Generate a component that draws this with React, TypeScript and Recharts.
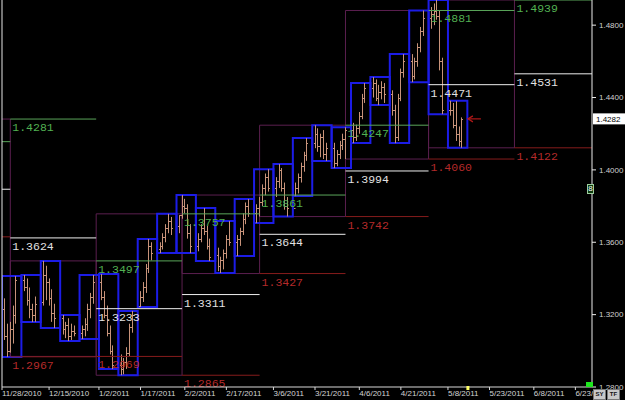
import {
  Bar,
  ComposedChart,
  ReferenceArea,
  ReferenceDot,
  ReferenceLine,
  XAxis,
  YAxis,
} from "recharts";

// daily bars, Mon..Fri, week 0 = week starting Sun 11/28/2010
const opens = [
  1.323, 1.308, 1.3, 1.312, 1.32,
  1.339, 1.335, 1.328, 1.323, 1.32,
  1.327, 1.342, 1.338, 1.329, 1.321,
  1.318, 1.312, 1.314, 1.308, 1.311,
  1.31, 1.312, 1.315, 1.323, 1.33,
  1.338, 1.33, 1.32, 1.31, 1.3,
  1.292, 1.29, 1.294, 1.299, 1.313,
  1.325, 1.33, 1.335, 1.346, 1.358,
  1.356, 1.358, 1.363, 1.368, 1.372,
  1.369, 1.375, 1.38, 1.379, 1.365,
  1.358, 1.362, 1.368, 1.366, 1.358,
  1.353, 1.347, 1.35, 1.354, 1.362,
  1.36, 1.362, 1.366, 1.373, 1.38,
  1.376, 1.379, 1.382, 1.39, 1.396,
  1.39, 1.394, 1.4, 1.39, 1.38,
  1.379, 1.39, 1.396, 1.402, 1.408,
  1.415, 1.42, 1.413, 1.418, 1.409,
  1.412, 1.404, 1.409, 1.414, 1.417,
  1.422, 1.418, 1.423, 1.43, 1.44,
  1.445, 1.448, 1.44, 1.443, 1.446,
  1.442, 1.433, 1.418, 1.44, 1.454,
  1.46, 1.452, 1.46, 1.468, 1.477,
  1.484, 1.486, 1.488, 1.485, 1.46,
  1.433, 1.433, 1.425, 1.42, 1.416,
];
const highs = [
  1.329, 1.315, 1.316, 1.325, 1.3413,
  1.3419, 1.34, 1.335, 1.326, 1.33,
  1.3497, 1.347, 1.34, 1.334, 1.326,
  1.3198, 1.316, 1.318, 1.315, 1.314,
  1.314, 1.318, 1.326, 1.332, 1.3419,
  1.3424, 1.333, 1.325, 1.314, 1.303,
  1.298, 1.296, 1.302, 1.315, 1.322,
  1.333, 1.338, 1.348, 1.3618, 1.36,
  1.36, 1.365, 1.37, 1.3757, 1.374,
  1.375, 1.3861, 1.384, 1.381, 1.37,
  1.365, 1.37, 1.3789, 1.369, 1.362,
  1.357, 1.352, 1.356, 1.364, 1.3717,
  1.364, 1.368, 1.376, 1.382, 1.3839,
  1.381, 1.385, 1.392, 1.398, 1.4004,
  1.396, 1.4032, 1.401, 1.393, 1.385,
  1.393, 1.398, 1.404, 1.41, 1.4176,
  1.4247, 1.423, 1.42, 1.422, 1.415,
  1.415, 1.411, 1.416, 1.42, 1.4236,
  1.426, 1.425, 1.432, 1.442, 1.448,
  1.4513, 1.45, 1.447, 1.449, 1.448,
  1.444, 1.436, 1.442, 1.456, 1.464,
  1.464, 1.462, 1.47, 1.479, 1.4881,
  1.49, 1.492, 1.4939, 1.488, 1.462,
  1.4382, 1.437, 1.438, 1.424, 1.429,
];
const lows = [
  1.306, 1.2966, 1.299, 1.304, 1.315,
  1.333, 1.325, 1.318, 1.3159, 1.316,
  1.325, 1.328, 1.325, 1.316, 1.3126,
  1.309, 1.307, 1.3054, 1.306, 1.308,
  1.3065, 1.308, 1.311, 1.318, 1.326,
  1.328, 1.318, 1.308, 1.298, 1.2899,
  1.2865, 1.287, 1.29, 1.297, 1.31,
  1.3242, 1.327, 1.332, 1.343, 1.35,
  1.354, 1.356, 1.36, 1.365, 1.364,
  1.365, 1.373, 1.376, 1.362, 1.354,
  1.355, 1.36, 1.364, 1.356, 1.3496,
  1.344, 1.343, 1.345, 1.351, 1.358,
  1.3524, 1.358, 1.364, 1.37, 1.374,
  1.3706, 1.3742, 1.38, 1.386, 1.388,
  1.385, 1.39, 1.388, 1.378, 1.3742,
  1.3855, 1.387, 1.393, 1.399, 1.405,
  1.412, 1.41, 1.407, 1.406, 1.4049,
  1.401, 1.402, 1.406, 1.411, 1.406,
  1.4148, 1.416, 1.42, 1.428, 1.437,
  1.44, 1.438, 1.4358, 1.439, 1.437,
  1.43, 1.4148, 1.416, 1.438, 1.451,
  1.4485, 1.45, 1.457, 1.465, 1.474,
  1.478, 1.48, 1.483, 1.455, 1.4308,
  1.43, 1.423, 1.416, 1.413, 1.4122,
];
const closes = [
  1.308, 1.3, 1.312, 1.32, 1.339,
  1.335, 1.328, 1.323, 1.32, 1.326,
  1.342, 1.338, 1.329, 1.321, 1.318,
  1.312, 1.314, 1.308, 1.311, 1.31,
  1.312, 1.315, 1.323, 1.33, 1.338,
  1.33, 1.32, 1.31, 1.3, 1.292,
  1.29, 1.294, 1.299, 1.313, 1.32,
  1.33, 1.335, 1.346, 1.358, 1.354,
  1.358, 1.363, 1.368, 1.372, 1.368,
  1.375, 1.38, 1.379, 1.365, 1.358,
  1.362, 1.368, 1.366, 1.358, 1.352,
  1.347, 1.35, 1.354, 1.362, 1.36,
  1.362, 1.366, 1.373, 1.38, 1.376,
  1.379, 1.382, 1.39, 1.396, 1.39,
  1.394, 1.4, 1.39, 1.38, 1.379,
  1.39, 1.396, 1.402, 1.408, 1.415,
  1.42, 1.413, 1.418, 1.409, 1.412,
  1.404, 1.409, 1.414, 1.417, 1.422,
  1.418, 1.423, 1.43, 1.44, 1.445,
  1.448, 1.44, 1.443, 1.446, 1.442,
  1.433, 1.418, 1.44, 1.454, 1.46,
  1.452, 1.46, 1.468, 1.477, 1.484,
  1.486, 1.488, 1.485, 1.46, 1.433,
  1.433, 1.425, 1.42, 1.416, 1.4282,
];

const tickDays = [0, 17, 35, 50, 66, 81, 98, 113, 129, 144, 161, 176, 192, 207];
const tickLabels = [
  "11/28/2010", "12/15/2010", "1/2/2011", "1/17/2011", "2/2/2011", "2/17/2011", "3/6/2011",
  "3/21/2011", "4/6/2011", "4/21/2011", "5/8/2011", "5/23/2011", "6/8/2011", "6/23/",
];
const priceTicks = [1.28, 1.32, 1.36, 1.4, 1.44, 1.48];

// month sections Nov..Jun (days from 11/28/2010)
const monthStart = [-27, 3, 34, 65, 93, 124, 154, 185];
const monthEnd = [3, 34, 65, 93, 124, 154, 185, 213];
const monthHigh = [1.4281, 1.3497, 1.3757, 1.3861, 1.4247, 1.4881, 1.4939];
const monthLow = [1.2967, 1.2969, 1.2865, 1.3427, 1.3742, 1.406, 1.4122];
const prevHigh = [1.4156, 1.4281, 1.3497, 1.3757, 1.3861, 1.4247, 1.4881, 1.4939];
const prevMid = [1.3893, 1.3624, 1.3233, 1.3311, 1.3644, 1.3994, 1.4471, 1.4531];
const prevLow = [1.363, 1.2967, 1.2969, 1.2865, 1.3427, 1.3742, 1.406, 1.4122];
const lastPrice = 1.4282;

const BAR = "#c8937a";
const BLUE = "#1c1ce6";
const PURPLE = "#5b1f4f";
const GREEN = ["#5aa55a", "#52b152"];
const WHITE = ["#eeeeee", "#e2e2e2"];
const RED = ["#861c1c", "#b52a2a"];

const bars = opens.map((o, i) => ({
  day: Math.floor(i / 5) * 7 + (i % 5) + 1,
  open: o,
  high: highs[i],
  low: lows[i],
  close: closes[i],
  range: [lows[i], highs[i]],
}));

const weeks = Array.from({ length: opens.length / 5 }, (_, w) => ({
  x1: w * 7,
  x2: w * 7 + 7,
  high: Math.max(...highs.slice(w * 5, w * 5 + 5)),
  low: Math.min(...lows.slice(w * 5, w * 5 + 5)),
}));

function OhlcShape(props: any) {
  const { x, y, width, height, payload } = props;
  const top = Math.min(y, y + height);
  const h = Math.abs(height);
  const cx = Math.round(x + width / 2) + 0.5;
  const span = payload.high - payload.low || 1;
  const at = (v: number) => Math.round(top + ((payload.high - v) / span) * h) + 0.5;
  return (
    <g stroke={BAR} strokeWidth={1}>
      <line x1={cx} x2={cx} y1={top} y2={top + h} />
      <line x1={cx - 1.5} x2={cx} y1={at(payload.open)} y2={at(payload.open)} />
      <line x1={cx} x2={cx + 1.5} y1={at(payload.close)} y2={at(payload.close)} />
    </g>
  );
}

const levelLabel = (text: string, color: string) => (props: any) => {
  const vb = props.viewBox;
  return (
    <text x={vb.x + 2} y={vb.y + 12} fill={color} fontSize={11.5} fontFamily="Liberation Mono">
      {text}
    </text>
  );
};

const priceTag = (props: any) => {
  const vb = props.viewBox;
  return (
    <g>
      <rect x={vb.x + vb.width + 1} y={vb.y - 5.5} width={32} height={11} fill="#ffffff" />
      <text x={vb.x + vb.width + 4} y={vb.y + 3} fill="#000" fontSize={8} fontFamily="Liberation Sans">
        {lastPrice.toFixed(4)}
      </text>
    </g>
  );
};

const DateTick = (p: any) => (
  <text x={p.x} y={p.y + 4} fill="#d4d4d4" fontSize={8} fontFamily="Liberation Sans" textAnchor="start">
    {tickLabels[tickDays.indexOf(p.payload.value)]}
  </text>
);

const chip = {
  position: "absolute" as const,
  top: 389,
  width: 11,
  height: 9,
  border: "1px solid #777",
  background: "#c8c8c8",
  color: "#111",
  fontSize: 6,
  lineHeight: "9px",
  fontWeight: "bold" as const,
  fontFamily: "Liberation Sans",
  textAlign: "center" as const,
};

export default function App() {
  return (
    <div style={{ position: "absolute", left: 0, top: 0, width: 625, height: 400, background: "#000", overflow: "hidden" }}>
      <ComposedChart width={625} height={400} data={bars} margin={{ top: 0, right: 0, bottom: 0, left: 2 }}>
        <XAxis
          dataKey="day"
          type="number"
          domain={[0, 213]}
          ticks={tickDays}
          interval={0}
          height={13}
          allowDataOverflow
          axisLine={{ stroke: "#d8d8d8" }}
          tickLine={{ stroke: "#d8d8d8" }}
          tickSize={3}
          tick={DateTick}
        />
        <YAxis
          orientation="right"
          type="number"
          domain={[1.28, 1.4939]}
          ticks={priceTicks}
          interval={0}
          width={33}
          allowDataOverflow
          axisLine={{ stroke: "#ececec" }}
          tickLine={{ stroke: "#ececec" }}
          tickSize={4}
          tickMargin={3}
          tick={{ fill: "#d0d0d0", fontSize: 8, fontFamily: "Liberation Sans" }}
          tickFormatter={(v: number) => v.toFixed(4)}
        />

        {monthHigh.map((hi, i) => (
          <ReferenceArea
            key={`m${i}`}
            x1={monthStart[i]}
            x2={monthEnd[i]}
            y1={monthLow[i]}
            y2={hi}
            fill="none"
            fillOpacity={0}
            stroke={PURPLE}
            strokeWidth={1}
            ifOverflow="hidden"
          />
        ))}

        {prevHigh.map((_, i) =>
          [
            [prevHigh[i], GREEN],
            [prevMid[i], WHITE],
            [prevLow[i], RED],
          ].map(([v, c]: any, j) => (
            <ReferenceLine
              key={`l${i}-${j}`}
              segment={[
                { x: Math.max(monthStart[i], 0), y: v },
                { x: monthEnd[i], y: v },
              ]}
              stroke={c[0]}
              strokeWidth={1}
              ifOverflow="visible"
              label={i > 0 ? levelLabel(v.toFixed(4), c[1]) : undefined}
            />
          ))
        )}

        {weeks.map((w, i) => (
          <ReferenceArea
            key={`w${i}`}
            x1={w.x1}
            x2={w.x2}
            y1={w.low}
            y2={w.high}
            fill="none"
            fillOpacity={0}
            stroke={BLUE}
            strokeWidth={2}
            ifOverflow="hidden"
          />
        ))}

        <ReferenceLine x={0} stroke="#e6e6e6" ifOverflow="visible" />
        <ReferenceLine y={lastPrice} stroke="none" ifOverflow="visible" label={priceTag} />
        <ReferenceDot
          x={168.2}
          y={lastPrice}
          ifOverflow="visible"
          shape={(p: any) => (
            <g stroke="#b01818" strokeWidth={1.2} fill="none">
              <line x1={p.cx} x2={p.cx + 13} y1={p.cy} y2={p.cy} />
              <polyline points={`${p.cx + 5},${p.cy - 3} ${p.cx},${p.cy} ${p.cx + 5},${p.cy + 3}`} />
            </g>
          )}
        />
        <ReferenceDot
          x={168.2}
          y={1.28}
          ifOverflow="visible"
          shape={(p: any) => <rect x={p.cx - 1.5} y={p.cy - 1} width={3} height={4} fill="#ffff66" />}
        />

        <Bar dataKey="range" barSize={2} shape={OhlcShape} isAnimationActive={false} />
      </ComposedChart>

      <div style={{ position: "absolute", left: 587, top: 184, width: 5, height: 8, border: "1px solid #9ccc9c", background: "#0d3a0d", color: "#fff", fontSize: 8, lineHeight: "8px", fontFamily: "Liberation Sans", textAlign: "center" }}>8</div>
      <div style={{ position: "absolute", left: 586, top: 382, width: 7, height: 5, background: "#1ee61e" }} />
      <div style={{ ...chip, left: 593 }}>SY</div>
      <div style={{ ...chip, left: 607 }}>TF</div>
    </div>
  );
}
